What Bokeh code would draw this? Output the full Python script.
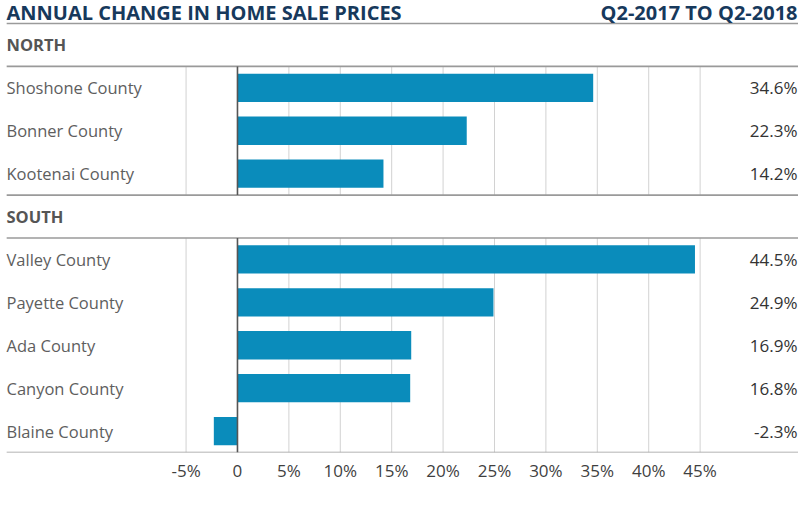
from bokeh.plotting import figure
from bokeh.models import Range1d, FixedTicker, ColumnDataSource
from bokeh.core.properties import value
from bokeh.embed import file_html
from bokeh.resources import INLINE

# ---- data ----
title_left = "ANNUAL CHANGE IN HOME SALE PRICES"
title_right = "Q2-2017 TO Q2-2018"
section_names = ["NORTH", "SOUTH"]
north_counties = ["Shoshone County", "Bonner County", "Kootenai County"]
north_values = [34.6, 22.3, 14.2]
south_counties = ["Valley County", "Payette County", "Ada County", "Canyon County", "Blaine County"]
south_values = [44.5, 24.9, 16.9, 16.8, -2.3]
tick_values = [-5, 0, 5, 10, 15, 20, 25, 30, 35, 40, 45]
tick_labels = ["-5%", "0", "5%", "10%", "15%", "20%", "25%", "30%", "35%", "40%", "45%"]

sections = [(section_names[0], north_counties, north_values),
            (section_names[1], south_counties, south_values)]

BAR = "#0a8cbb"
NAVY = "#17395c"
GRAY_TXT = "#555555"
FONT = "Open Sans"

X0, X1 = -23.05, 54.57
LX0 = X0 + 0.6  # separator lines start a few px from the left edge
p = figure(width=798, height=500, output_backend="svg", toolbar_location=None,
           x_range=Range1d(X0, X1), y_range=Range1d(10, -0.536),
           min_border_left=0, min_border_right=0, min_border_top=0, min_border_bottom=48,
           y_axis_location=None)
p.outline_line_color = None
p.xgrid.visible = False
p.ygrid.visible = False

# build row positions from the section structure
rows_y, rows_label, rows_val = [], [], []
head_y, head_label = [], []
blocks = []  # (top, bottom) of each section block
hlines = [0.0]
cur = 0.0
for name, counties, vals in sections:
    head_y.append(cur + 0.5)
    head_label.append(name)
    cur += 1.0
    hlines.append(cur)
    top = cur
    for c, v in zip(counties, vals):
        rows_y.append(cur + 0.5)
        rows_label.append(c)
        rows_val.append(v)
        cur += 1.0
    blocks.append((top, cur))
    hlines.append(cur)

src = ColumnDataSource(dict(y=rows_y, label=rows_label, val=rows_val,
                            vlabel=[f"{v:.1f}%" for v in rows_val]))

# vertical gridlines per block
gx0, gy0, gx1, gy1 = [], [], [], []
for (t, b) in blocks:
    for tv in tick_values:
        if tv != 0:
            gx0.append(tv); gx1.append(tv); gy0.append(t); gy1.append(b)
p.segment(gx0, gy0, gx1, gy1, line_color="#d2d2d2", line_width=1)

# horizontal separators
p.segment([LX0] * len(hlines), hlines, [X1] * len(hlines), hlines,
          line_color="#9a9a9a", line_width=1.6)

# bars
p.hbar(y="y", left=0, right="val", height=0.66, source=src, fill_color=BAR, line_color=None)

# zero line
p.segment([0] * len(blocks), [b[0] for b in blocks], [0] * len(blocks), [b[1] for b in blocks],
          line_color="#555555", line_width=1.6)

# labels
p.text(x=X0, y="y", text="label", source=src, text_font=value(FONT), text_font_size="16.5px",
       text_color="#5e5e5e", text_baseline="middle", text_align="left", x_offset=6)
p.text(x=X1, y="y", text="vlabel", source=src, text_font=value(FONT), text_font_size="17px",
       text_font_style="normal", text_color="#333333", text_baseline="middle", text_align="right",
       x_offset=-1)
p.text(x=[X0] * len(head_y), y=head_y, text=head_label, text_font=value(FONT),
       text_font_size="16.5px", text_font_style="bold", text_color=GRAY_TXT,
       text_baseline="middle", text_align="left", x_offset=6)
p.text(x=[X0], y=[-0.256], text=[title_left], text_font=value(FONT), text_font_size="20px",
       text_font_style="bold", text_color=NAVY, text_baseline="middle", text_align="left",
       x_offset=6)
p.text(x=[X1], y=[-0.256], text=[title_right], text_font=value(FONT), text_font_size="20px",
       text_font_style="bold", text_color=NAVY, text_baseline="middle", text_align="right",
       x_offset=-1)

# x axis
p.xaxis.ticker = FixedTicker(ticks=tick_values)
p.xaxis.major_label_overrides = {tv: lab for tv, lab in zip(tick_values, tick_labels)}
p.xaxis.axis_line_color = None
p.xaxis.major_tick_line_color = None
p.xaxis.minor_tick_line_color = None
p.xaxis.major_label_text_font = FONT
p.xaxis.major_label_text_font_size = "17px"
p.xaxis.major_label_text_color = "#3f3f3f"
p.xaxis.major_label_standoff = 0

open("out.html", "w").write(file_html(p, INLINE))
